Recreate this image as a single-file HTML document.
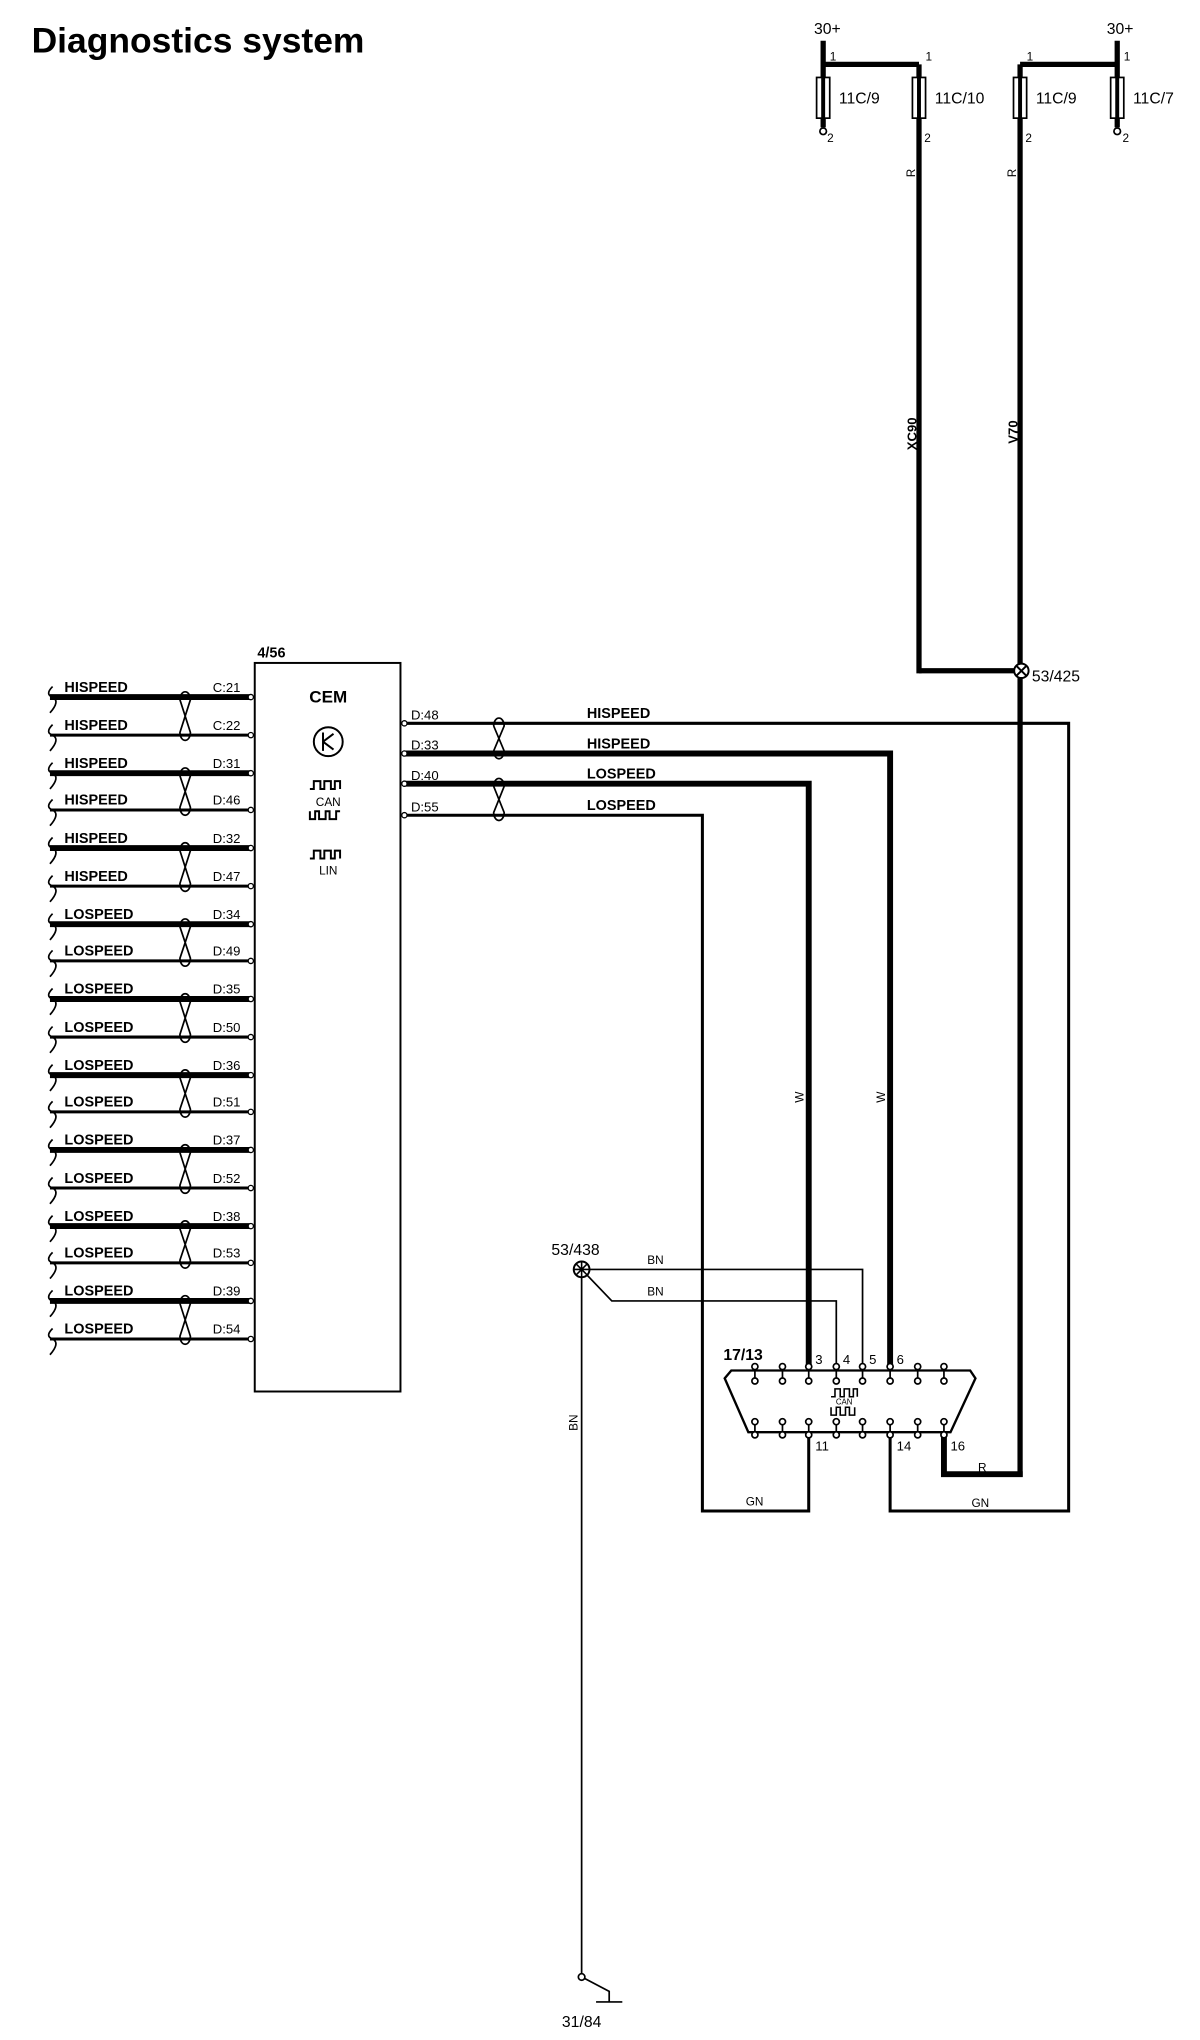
<!DOCTYPE html>
<html><head><meta charset="utf-8"><style>
html,body{margin:0;padding:0;background:#fff}
svg{display:block}
text{font-family:"Liberation Sans",sans-serif;fill:#000}
.b{font-weight:bold}
</style></head><body>
<svg width="1200" height="2040" viewBox="0 0 914 1554" xmlns="http://www.w3.org/2000/svg">
<rect width="914" height="1554" fill="#fff"/>
<text x="24" y="40" class="b" font-size="27">Diagnostics system</text>

<!-- fuses -->
<g stroke="#000" fill="none">
<line x1="627" y1="31" x2="627" y2="97" stroke-width="4"/>
<line x1="627" y1="49" x2="700" y2="49" stroke-width="4"/>
<line x1="700" y1="49" x2="700" y2="513" stroke-width="4"/>
<line x1="851" y1="31" x2="851" y2="97" stroke-width="4"/>
<line x1="777" y1="49" x2="851" y2="49" stroke-width="4"/>
<line x1="777" y1="49" x2="777" y2="1125" stroke-width="4"/>
<line x1="700" y1="511" x2="777" y2="511" stroke-width="4"/>
</g>
<g stroke="#000" stroke-width="1.3" fill="#fff">
<rect x="622" y="59" width="10" height="31"/>
<rect x="695" y="59" width="10" height="31"/>
<rect x="772" y="59" width="10" height="31"/>
<rect x="846" y="59" width="10" height="31"/>
<circle cx="627" cy="100" r="2.5"/>
<circle cx="851" cy="100" r="2.5"/>
</g>
<g stroke="#000" stroke-width="3"><line x1="627" y1="59" x2="627" y2="90"/><line x1="700" y1="59" x2="700" y2="90"/><line x1="777" y1="59" x2="777" y2="90"/><line x1="851" y1="59" x2="851" y2="90"/></g>
<g font-size="12"><text x="620" y="26">30+</text><text x="843" y="26">30+</text>
<text x="639" y="79">11C/9</text><text x="712" y="79">11C/10</text><text x="789" y="79">11C/9</text><text x="863" y="79">11C/7</text></g>
<g font-size="9"><text x="632" y="46">1</text><text x="705" y="46">1</text><text x="782" y="46">1</text><text x="856" y="46">1</text>
<text x="630" y="108">2</text><text x="704" y="108">2</text><text x="781" y="108">2</text><text x="855" y="108">2</text></g>
<g font-size="9"><text transform="translate(697,135) rotate(-90)">R</text><text transform="translate(774,135) rotate(-90)">R</text></g>
<g font-size="10" class="b"><text transform="translate(698,343) rotate(-90)" class="b">XC90</text><text transform="translate(775,338) rotate(-90)" class="b">V70</text></g>
<circle cx="778" cy="511" r="5.5" fill="#fff" stroke="#000" stroke-width="1.5"/>
<path d="M774 507 L782 515 M782 507 L774 515" stroke="#000" stroke-width="1.5"/>
<text x="786" y="519" font-size="12">53/425</text>

<!-- CEM box -->
<rect x="194" y="505" width="111" height="555" fill="none" stroke="#000" stroke-width="1.5"/>
<text x="196" y="501" font-size="11" class="b">4/56</text>
<text x="250" y="535" font-size="13" text-anchor="middle" class="b">CEM</text>
<circle cx="250" cy="565" r="11" fill="none" stroke="#000" stroke-width="1.5"/>
<path d="M246 558 V572 M246 565 L254 559 M246 565 L254 571" stroke="#000" stroke-width="1.5" fill="none"/>
<g stroke="#000" stroke-width="1.5" fill="none">
<path d="M236 601 h3 v-6 h5 v6 h3 v-6 h5 v6 h3 v-6 h4 v6"/>
<path d="M236 618 v6 h4 v-6 h3 v6 h5 v-6 h3 v6 h5 v-6 h3"/>
<path d="M236 654 h3 v-6 h5 v6 h3 v-6 h5 v6 h3 v-6 h4 v6"/>
</g>
<text x="250" y="614" font-size="9" text-anchor="middle">CAN</text>
<text x="250" y="666" font-size="9" text-anchor="middle">LIN</text>

<!-- left rows -->
<g stroke="#000" fill="none">
<g stroke-width="4.5"><line x1="38" y1="531" x2="190" y2="531"/><line x1="38" y1="589" x2="190" y2="589"/><line x1="38" y1="646" x2="190" y2="646"/><line x1="38" y1="704" x2="190" y2="704"/><line x1="38" y1="761" x2="190" y2="761"/><line x1="38" y1="819" x2="190" y2="819"/><line x1="38" y1="876" x2="190" y2="876"/><line x1="38" y1="934" x2="190" y2="934"/><line x1="38" y1="991" x2="190" y2="991"/></g>
<g stroke-width="2.3"><line x1="38" y1="560" x2="190" y2="560"/><line x1="38" y1="617" x2="190" y2="617"/><line x1="38" y1="675" x2="190" y2="675"/><line x1="38" y1="732" x2="190" y2="732"/><line x1="38" y1="790" x2="190" y2="790"/><line x1="38" y1="847" x2="190" y2="847"/><line x1="38" y1="905" x2="190" y2="905"/><line x1="38" y1="962" x2="190" y2="962"/><line x1="38" y1="1020" x2="190" y2="1020"/></g>
<g stroke-width="1.3">
<path d="M40 523 q-6 6 0 8 q6 3 -2 12"/><path d="M40 552 q-6 6 0 8 q6 3 -2 12"/><path d="M40 581 q-6 6 0 8 q6 3 -2 12"/><path d="M40 609 q-6 6 0 8 q6 3 -2 12"/><path d="M40 638 q-6 6 0 8 q6 3 -2 12"/><path d="M40 667 q-6 6 0 8 q6 3 -2 12"/><path d="M40 696 q-6 6 0 8 q6 3 -2 12"/><path d="M40 724 q-6 6 0 8 q6 3 -2 12"/><path d="M40 753 q-6 6 0 8 q6 3 -2 12"/><path d="M40 782 q-6 6 0 8 q6 3 -2 12"/><path d="M40 811 q-6 6 0 8 q6 3 -2 12"/><path d="M40 839 q-6 6 0 8 q6 3 -2 12"/><path d="M40 868 q-6 6 0 8 q6 3 -2 12"/><path d="M40 897 q-6 6 0 8 q6 3 -2 12"/><path d="M40 926 q-6 6 0 8 q6 3 -2 12"/><path d="M40 954 q-6 6 0 8 q6 3 -2 12"/><path d="M40 983 q-6 6 0 8 q6 3 -2 12"/><path d="M40 1012 q-6 6 0 8 q6 3 -2 12"/>
<path d="M137 533 L145 558 A4 6 0 0 1 137 558 L145 533 A4 6 0 0 0 137 533"/>
<path d="M137 591 L145 615 A4 6 0 0 1 137 615 L145 591 A4 6 0 0 0 137 591"/>
<path d="M137 648 L145 673 A4 6 0 0 1 137 673 L145 648 A4 6 0 0 0 137 648"/>
<path d="M137 706 L145 730 A4 6 0 0 1 137 730 L145 706 A4 6 0 0 0 137 706"/>
<path d="M137 763 L145 788 A4 6 0 0 1 137 788 L145 763 A4 6 0 0 0 137 763"/>
<path d="M137 821 L145 845 A4 6 0 0 1 137 845 L145 821 A4 6 0 0 0 137 821"/>
<path d="M137 878 L145 903 A4 6 0 0 1 137 903 L145 878 A4 6 0 0 0 137 878"/>
<path d="M137 936 L145 960 A4 6 0 0 1 137 960 L145 936 A4 6 0 0 0 137 936"/>
<path d="M137 993 L145 1018 A4 6 0 0 1 137 1018 L145 993 A4 6 0 0 0 137 993"/>
</g>
</g>
<g fill="#fff" stroke="#000" stroke-width="1"><circle cx="191" cy="531" r="2"/><circle cx="191" cy="560" r="2"/><circle cx="191" cy="589" r="2"/><circle cx="191" cy="617" r="2"/><circle cx="191" cy="646" r="2"/><circle cx="191" cy="675" r="2"/><circle cx="191" cy="704" r="2"/><circle cx="191" cy="732" r="2"/><circle cx="191" cy="761" r="2"/><circle cx="191" cy="790" r="2"/><circle cx="191" cy="819" r="2"/><circle cx="191" cy="847" r="2"/><circle cx="191" cy="876" r="2"/><circle cx="191" cy="905" r="2"/><circle cx="191" cy="934" r="2"/><circle cx="191" cy="962" r="2"/><circle cx="191" cy="991" r="2"/><circle cx="191" cy="1020" r="2"/></g>
<g font-size="11" class="b">
<text x="49" y="527">HISPEED</text><text x="49" y="556">HISPEED</text><text x="49" y="585">HISPEED</text><text x="49" y="613">HISPEED</text><text x="49" y="642">HISPEED</text><text x="49" y="671">HISPEED</text>
<text x="49" y="700">LOSPEED</text><text x="49" y="728">LOSPEED</text><text x="49" y="757">LOSPEED</text><text x="49" y="786">LOSPEED</text><text x="49" y="815">LOSPEED</text><text x="49" y="843">LOSPEED</text><text x="49" y="872">LOSPEED</text><text x="49" y="901">LOSPEED</text><text x="49" y="930">LOSPEED</text><text x="49" y="958">LOSPEED</text><text x="49" y="987">LOSPEED</text><text x="49" y="1016">LOSPEED</text>
</g>
<g font-size="10">
<text x="162" y="527">C:21</text><text x="162" y="556">C:22</text><text x="162" y="585">D:31</text><text x="162" y="613">D:46</text><text x="162" y="642">D:32</text><text x="162" y="671">D:47</text><text x="162" y="700">D:34</text><text x="162" y="728">D:49</text><text x="162" y="757">D:35</text><text x="162" y="786">D:50</text><text x="162" y="815">D:36</text><text x="162" y="843">D:51</text><text x="162" y="872">D:37</text><text x="162" y="901">D:52</text><text x="162" y="930">D:38</text><text x="162" y="958">D:53</text><text x="162" y="987">D:39</text><text x="162" y="1016">D:54</text>
</g>

<!-- right outputs -->
<g stroke="#000" fill="none">
<path d="M307 551 H814 V1151 H678 V1093" stroke-width="2.3"/>
<path d="M307 574 H678 V1042" stroke-width="4.5"/>
<path d="M307 597 H616 V1042" stroke-width="4.5"/>
<path d="M307 621 H535 V1151 H616 V1093" stroke-width="2.3"/>
<path d="M719 1093 V1123 H779" stroke-width="4.5"/>
<g stroke-width="1.3">
<path d="M376 553 L384 572 A4 6 0 0 1 376 572 L384 553 A4 6 0 0 0 376 553"/>
<path d="M376 599 L384 619 A4 6 0 0 1 376 619 L384 599 A4 6 0 0 0 376 599"/>
</g>
</g>
<g fill="#fff" stroke="#000" stroke-width="1"><circle cx="308" cy="551" r="2"/><circle cx="308" cy="574" r="2"/><circle cx="308" cy="597" r="2"/><circle cx="308" cy="621" r="2"/></g>
<g font-size="10"><text x="313" y="548">D:48</text><text x="313" y="571">D:33</text><text x="313" y="594">D:40</text><text x="313" y="618">D:55</text></g>
<g font-size="11" class="b"><text x="447" y="547">HISPEED</text><text x="447" y="570">HISPEED</text><text x="447" y="593">LOSPEED</text><text x="447" y="617">LOSPEED</text></g>
<g font-size="9"><text transform="translate(612,840) rotate(-90)">W</text><text transform="translate(674,840) rotate(-90)">W</text>
<text x="568" y="1147">GN</text><text x="740" y="1148">GN</text><text x="745" y="1121">R</text></g>

<!-- connector 17/13 -->
<g stroke="#000" fill="none" stroke-width="1.8">
<path d="M557 1044 H739 L743 1050 L724 1091 H570 L552 1050 Z"/>
</g>
<text x="551" y="1036" font-size="12" class="b">17/13</text>
<g stroke="#000" stroke-width="1.3" fill="#fff">
<g><line x1="575" y1="1041" x2="575" y2="1052"/><line x1="596" y1="1041" x2="596" y2="1052"/><line x1="616" y1="1041" x2="616" y2="1052"/><line x1="637" y1="1041" x2="637" y2="1052"/><line x1="657" y1="1041" x2="657" y2="1052"/><line x1="678" y1="1041" x2="678" y2="1052"/><line x1="699" y1="1041" x2="699" y2="1052"/><line x1="719" y1="1041" x2="719" y2="1052"/>
<line x1="575" y1="1083" x2="575" y2="1093"/><line x1="596" y1="1083" x2="596" y2="1093"/><line x1="616" y1="1083" x2="616" y2="1093"/><line x1="637" y1="1083" x2="637" y2="1093"/><line x1="657" y1="1083" x2="657" y2="1093"/><line x1="678" y1="1083" x2="678" y2="1093"/><line x1="699" y1="1083" x2="699" y2="1093"/><line x1="719" y1="1083" x2="719" y2="1093"/></g>
<circle cx="575" cy="1041" r="2.3"/><circle cx="596" cy="1041" r="2.3"/><circle cx="616" cy="1041" r="2.3"/><circle cx="637" cy="1041" r="2.3"/><circle cx="657" cy="1041" r="2.3"/><circle cx="678" cy="1041" r="2.3"/><circle cx="699" cy="1041" r="2.3"/><circle cx="719" cy="1041" r="2.3"/>
<circle cx="575" cy="1052" r="2.3"/><circle cx="596" cy="1052" r="2.3"/><circle cx="616" cy="1052" r="2.3"/><circle cx="637" cy="1052" r="2.3"/><circle cx="657" cy="1052" r="2.3"/><circle cx="678" cy="1052" r="2.3"/><circle cx="699" cy="1052" r="2.3"/><circle cx="719" cy="1052" r="2.3"/>
<circle cx="575" cy="1083" r="2.3"/><circle cx="596" cy="1083" r="2.3"/><circle cx="616" cy="1083" r="2.3"/><circle cx="637" cy="1083" r="2.3"/><circle cx="657" cy="1083" r="2.3"/><circle cx="678" cy="1083" r="2.3"/><circle cx="699" cy="1083" r="2.3"/><circle cx="719" cy="1083" r="2.3"/>
<circle cx="575" cy="1093" r="2.3"/><circle cx="596" cy="1093" r="2.3"/><circle cx="616" cy="1093" r="2.3"/><circle cx="637" cy="1093" r="2.3"/><circle cx="657" cy="1093" r="2.3"/><circle cx="678" cy="1093" r="2.3"/><circle cx="699" cy="1093" r="2.3"/><circle cx="719" cy="1093" r="2.3"/>
</g>
<g stroke="#000" stroke-width="1.2" fill="none">
<path d="M633 1064 h3 v-6 h4 v6 h3 v-6 h4 v6 h3 v-6 h3 v6"/>
<path d="M633 1072 v6 h4 v-6 h3 v6 h4 v-6 h3 v6 h4 v-6"/>
</g>
<text x="643" y="1070" font-size="6" text-anchor="middle">CAN</text>
<g font-size="10"><text x="621" y="1039">3</text><text x="642" y="1039">4</text><text x="662" y="1039">5</text><text x="683" y="1039">6</text>
<text x="621" y="1105">11</text><text x="683" y="1105">14</text><text x="724" y="1105">16</text></g>

<!-- ground 53/438 -->
<g stroke="#000" stroke-width="1.3" fill="none">
<path d="M443 967 H657 V1039"/>
<path d="M443 967 L466 991 H637 V1039"/>
<path d="M443 967 V1504"/>
<path d="M445 1507 L464 1517 V1525 M454 1525 H474"/>
</g>
<circle cx="443" cy="1506" r="2.5" fill="#fff" stroke="#000" stroke-width="1.3"/>
<circle cx="443" cy="967" r="6" fill="#fff" stroke="#000" stroke-width="1.5"/>
<path d="M439 963 L447 971 M447 963 L439 971 M443 961 V973 M437 967 H449" stroke="#000" stroke-width="1.2"/>
<text x="420" y="956" font-size="12">53/438</text>
<g font-size="9"><text x="493" y="963">BN</text><text x="493" y="987">BN</text><text transform="translate(440,1090) rotate(-90)">BN</text></g>
<text x="428" y="1544" font-size="12">31/84</text>
</svg>
</body></html>
